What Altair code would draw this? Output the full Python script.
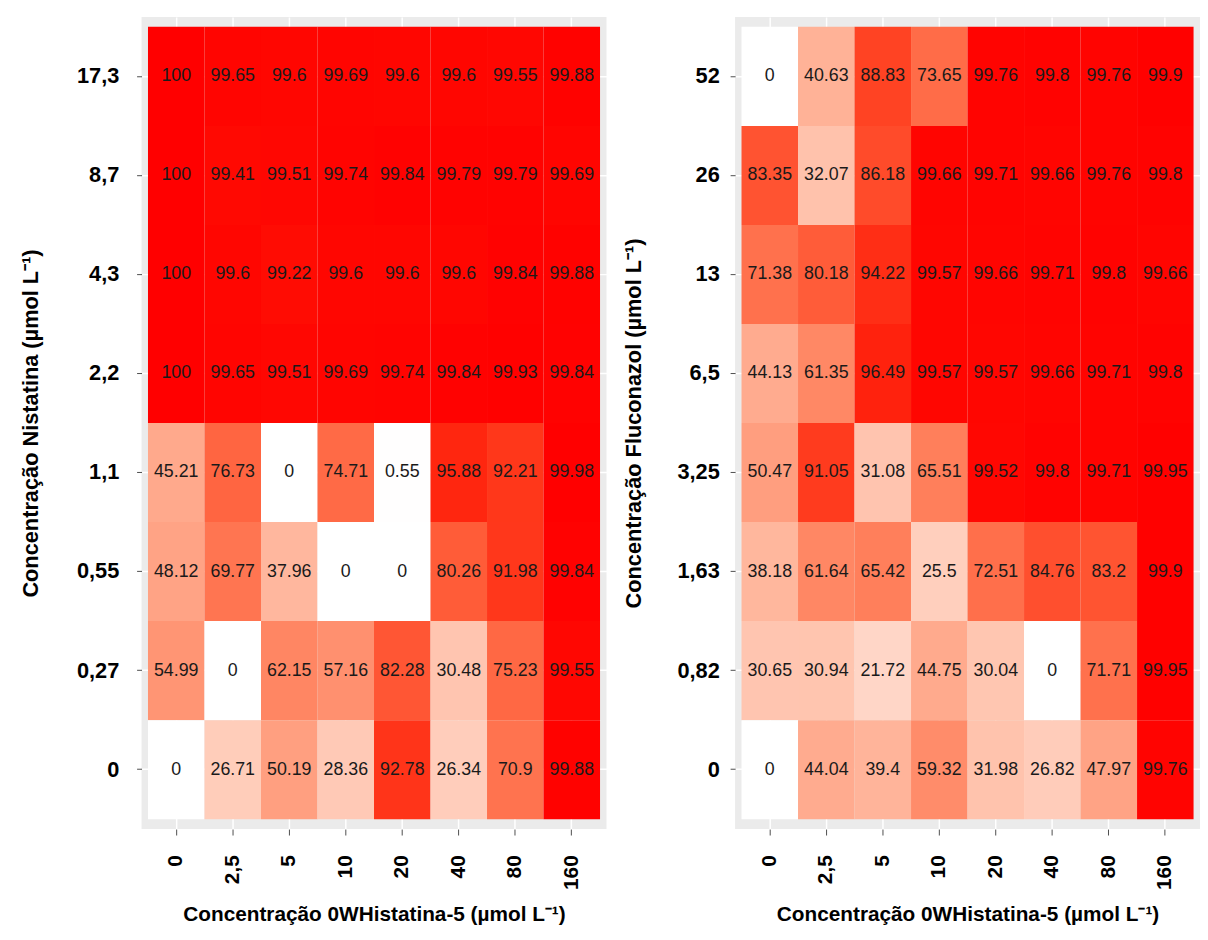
import altair as alt
import pandas as pd

x_labels = ["0", "2,5", "5", "10", "20", "40", "80", "160"]

nis_rows = ["17,3", "8,7", "4,3", "2,2", "1,1", "0,55", "0,27", "0"]
nis_vals = [
    [100, 99.65, 99.6, 99.69, 99.6, 99.6, 99.55, 99.88],
    [100, 99.41, 99.51, 99.74, 99.84, 99.79, 99.79, 99.69],
    [100, 99.6, 99.22, 99.6, 99.6, 99.6, 99.84, 99.88],
    [100, 99.65, 99.51, 99.69, 99.74, 99.84, 99.93, 99.84],
    [45.21, 76.73, 0, 74.71, 0.55, 95.88, 92.21, 99.98],
    [48.12, 69.77, 37.96, 0, 0, 80.26, 91.98, 99.84],
    [54.99, 0, 62.15, 57.16, 82.28, 30.48, 75.23, 99.55],
    [0, 26.71, 50.19, 28.36, 92.78, 26.34, 70.9, 99.88],
]

flu_rows = ["52", "26", "13", "6,5", "3,25", "1,63", "0,82", "0"]
flu_vals = [
    [0, 40.63, 88.83, 73.65, 99.76, 99.8, 99.76, 99.9],
    [83.35, 32.07, 86.18, 99.66, 99.71, 99.66, 99.76, 99.8],
    [71.38, 80.18, 94.22, 99.57, 99.66, 99.71, 99.8, 99.66],
    [44.13, 61.35, 96.49, 99.57, 99.57, 99.66, 99.71, 99.8],
    [50.47, 91.05, 31.08, 65.51, 99.52, 99.8, 99.71, 99.95],
    [38.18, 61.64, 65.42, 25.5, 72.51, 84.76, 83.2, 99.9],
    [30.65, 30.94, 21.72, 44.75, 30.04, 0, 71.71, 99.95],
    [0, 44.04, 39.4, 59.32, 31.98, 26.82, 47.97, 99.76],
]

x_title = "Concentração 0WHistatina-5 (µmol L⁻¹)"
nis_title = "Concentração Nistatina (µmol L⁻¹)"
flu_title = "Concentração Fluconazol (µmol L⁻¹)"

FONT = "Liberation Sans"


def make_df(rows, vals):
    recs = []
    for r, rowvals in zip(rows, vals):
        for c, v in zip(x_labels, rowvals):
            recs.append({"x": c, "y": r, "v": v, "t": "{:g}".format(v)})
    return pd.DataFrame(recs)


def heat(rows, vals, ytitle, label_pad, title_pad):
    df = make_df(rows, vals)
    xenc = alt.X(
        "x:O", sort=x_labels,
        scale=alt.Scale(paddingInner=0, paddingOuter=0.114),
        axis=alt.Axis(
            title=x_title, labelAngle=270, labelFontSize=21, labelFontWeight="bold",
            labelColor="black", labelFont=FONT, titleFont=FONT, titleFontSize=21,
            titleFontWeight="bold", titleColor="black", tickSize=6, tickColor="#4d4d4d",
            labelPadding=20, titlePadding=14, domain=False, grid=True, gridColor="white",
            gridWidth=1.5, bandPosition=0.5, zindex=0,
        ),
    )
    yenc = alt.Y(
        "y:O", sort=rows,
        scale=alt.Scale(paddingInner=0, paddingOuter=0.1),
        axis=alt.Axis(
            title=ytitle, labelFontSize=22, labelFontWeight="bold", labelColor="black",
            labelFont=FONT, titleFont=FONT, titleFontSize=22, titleFontWeight="bold",
            titleColor="black", tickSize=5, tickColor="#4d4d4d", labelPadding=label_pad,
            titlePadding=title_pad, domain=False, grid=True, gridColor="white",
            gridWidth=1.5, bandPosition=0.5, zindex=0,
        ),
    )
    rect = alt.Chart(df).mark_rect().encode(
        x=xenc, y=yenc,
        color=alt.Color("v:Q", scale=alt.Scale(domain=[0, 100], range=["#FFFFFF", "#FF0000"],
                                                interpolate="lab"), legend=None),
    )
    text = alt.Chart(df).mark_text(font=FONT, fontSize=18, color="#1a1a1a").encode(
        x=alt.X("x:O", sort=x_labels), y=alt.Y("y:O", sort=rows), text="t:N"
    )
    return (rect + text).properties(width=470, height=821)


left = heat(nis_rows, nis_vals, nis_title, 18, 34)
right = heat(flu_rows, flu_vals, flu_title, 11, 32)

chart = alt.hconcat(left, right, spacing=16).properties(
    padding={"left": 12, "top": 4, "right": 0, "bottom": 0}
).configure_view(fill="#EBEBEB", strokeWidth=0)

chart.save("out.html", embed_options={"renderer": "svg", "actions": False})
